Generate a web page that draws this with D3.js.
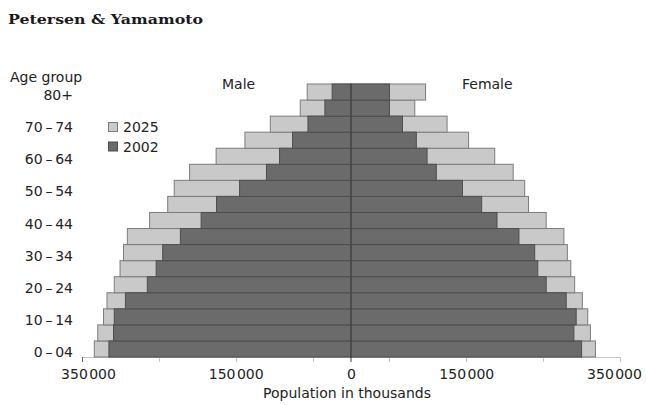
<!DOCTYPE html>
<html>
<head>
<meta charset="utf-8">
<script src="https://cdn.jsdelivr.net/npm/d3@7"></script>
<style>
  html, body { margin: 0; padding: 0; background: #fff; }
  svg { display: block; }
  text { font-family: "DejaVu Sans", sans-serif; fill: #222; }
</style>
</head>
<body>
<svg id="chart" width="646" height="405"></svg>
<script>
// ---- data (thousands, youngest first) ----
const ageGroups = ["0\u2009\u2013\u200904","05\u2009\u2013\u200909","10\u2009\u2013\u200914","15\u2009\u2013\u200919",
  "20\u2009\u2013\u200924","25\u2009\u2013\u200929","30\u2009\u2013\u200934","35\u2009\u2013\u200939",
  "40\u2009\u2013\u200944","45\u2009\u2013\u200949","50\u2009\u2013\u200954","55\u2009\u2013\u200959",
  "60\u2009\u2013\u200964","65\u2009\u2013\u200969","70\u2009\u2013\u200974","75\u2009\u2013\u200979","80+"];
const male2002   = [315000,309000,308000,293500,265000,253500,245000,222000,195000,175000,145000,110000,93000,76000,56000,34000,24500];
const male2025   = [334000,329500,322000,317500,308000,300500,296000,291000,262000,238500,230000,210000,175500,138000,105000,66000,57000];
const female2002 = [300000,290000,293000,280000,254000,243000,239000,218500,190000,170000,145000,111000,99000,85000,67000,50000,50000];
const female2025 = [318000,311500,308000,301000,291000,286000,281500,277000,254000,231000,226000,211000,187000,153000,125000,83000,97000];
const labeledTicks = [-350000,-150000,0,150000,350000];
const minorTicks = [-350000,-250000,-150000,-50000,50000,150000,250000,350000];
const years = ["2025","2002"];
const title = "Petersen & Yamamoto";

const svg = d3.select("#chart");

const x = d3.scaleLinear().domain([-350000, 350000]).range([82, 620]);
const y = d3.scaleBand().domain(ageGroups.slice().reverse()).range([84, 357]).padding(0);

const LIGHT = "#c9c9c9", LIGHT_STROKE = "#7c7c7c";
const DARK = "#6b6b6b", DARK_STROKE = "#4e4e4e";

// title
svg.append("text").attr("x", 8).attr("y", 24)
  .attr("textLength", 195).attr("lengthAdjust", "spacingAndGlyphs")
  .style("font-family", "'DejaVu Serif', 'Liberation Serif', serif")
  .style("font-weight", "bold").style("font-size", "13px").style("fill", "#1a1a1a")
  .text(title);

// axis line + ticks
svg.append("line").attr("x1", x(-350000)).attr("x2", x(350000))
  .attr("y1", 357.5).attr("y2", 357.5).attr("stroke", "#c4c4c4").attr("stroke-width", 1);
svg.selectAll(".minor").data(minorTicks).join("line")
  .attr("x1", d => Math.round(x(d)) + 0.5).attr("x2", d => Math.round(x(d)) + 0.5)
  .attr("y1", 357).attr("y2", 362)
  .attr("stroke", d => d === -350000 ? "#666" : "#c4c4c4");

const axis = d3.axisBottom(x).tickValues(labeledTicks).tickSize(0).tickPadding(12)
  .tickFormat(d => d3.format(",")(Math.abs(d)).replace(/,/g, "\u200a"));
const gAxis = svg.append("g").attr("transform", "translate(0,357)").call(axis);
gAxis.select(".domain").remove();
gAxis.selectAll("text").style("font-family", "'DejaVu Sans', sans-serif")
  .style("font-size", "14px").style("fill", "#222")
  .attr("dx", d => d === -350000 ? 6 : d === 350000 ? -6 : 0);

// bars: 2025 behind, 2002 in front
function bars(cls, data, side, fill, stroke) {
  svg.selectAll("." + cls).data(data).join("rect")
    .attr("class", cls)
    .attr("x", (d, i) => side < 0 ? x(-d) : x(0))
    .attr("width", d => Math.abs(x(d) - x(0)))
    .attr("y", (d, i) => y(ageGroups[i]))
    .attr("height", y.bandwidth())
    .attr("fill", fill).attr("stroke", stroke).attr("stroke-width", 1);
}
bars("m25", male2025, -1, LIGHT, LIGHT_STROKE);
bars("f25", female2025, 1, LIGHT, LIGHT_STROKE);
bars("m02", male2002, -1, DARK, DARK_STROKE);
bars("f02", female2002, 1, DARK, DARK_STROKE);

// centre line
svg.append("line").attr("x1", x(0)).attr("x2", x(0)).attr("y1", 84).attr("y2", 362)
  .attr("stroke", "#3e3e3e").attr("stroke-width", 1);

// age labels (every other group)
svg.selectAll(".age").data(ageGroups.filter((d, i) => i % 2 === 0)).join("text")
  .attr("class", "age")
  .attr("x", 73).attr("y", d => y(d) + y.bandwidth() / 2 + 8)
  .attr("text-anchor", "end").style("font-size", "14px")
  .text(d => d);

svg.append("text").attr("x", 10).attr("y", 82).style("font-size", "14px").text("Age group");
svg.append("text").attr("x", 222).attr("y", 89).style("font-size", "14px").text("Male");
svg.append("text").attr("x", 462).attr("y", 89).style("font-size", "14px").text("Female");
svg.append("text").attr("x", x(0) - 4).attr("y", 398).attr("text-anchor", "middle")
  .style("font-size", "14px").text("Population in thousands");

// legend
const lg = svg.append("g");
years.forEach((yr, i) => {
  lg.append("rect").attr("x", 108.5).attr("y", 122.5 + i * 19.5).attr("width", 9).attr("height", 9)
    .attr("fill", yr === "2025" ? LIGHT : DARK).attr("stroke", yr === "2025" ? LIGHT_STROKE : DARK_STROKE);
  lg.append("text").attr("x", 123).attr("y", 132 + i * 19.5).style("font-size", "14px").text(yr);
});
</script>
</body>
</html>
